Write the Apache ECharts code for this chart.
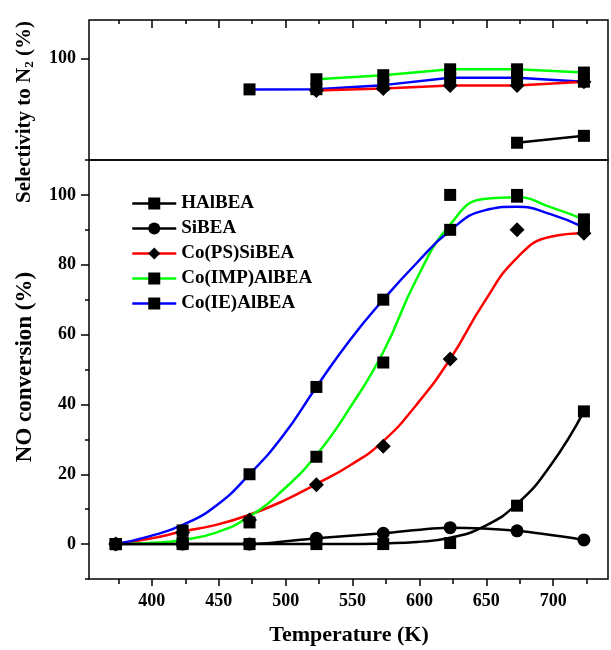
<!DOCTYPE html>
<html lang="en">
<head>
    <meta charset="utf-8">
    <title>NO conversion and selectivity to N2</title>
    <script src="https://cdn.jsdelivr.net/npm/echarts@6/dist/echarts.min.js"></script>
    <style>
        html, body { margin: 0; padding: 0; background: #fff; }
        #chart { width: 611px; height: 650px; }
    </style>
</head>
<body>
    <div id="chart"></div>
    <script type="text/javascript">
        // temperatures (K)
        var temps = [373, 423, 473, 523, 573, 623, 673, 723];
        // measured NO conversion (%)
        var convHAlBEA = [0, 0, 0, 0, 0, 0.3, 11, 38];
        var convSiBEA = [0, 0, 0, 1.7, 3.1, 4.7, 3.8, 1.2];
        var convCoPS = [0, 3.3, 6.9, 17, 28, 53, 90, 89];
        var convCoIMP = [0, 0.5, 6.2, 25, 52, 100, 100, 93];
        var convCoIE = [0, 3.9, 20, 45, 70, 90, 99.5, 91];
        // fitted curves
        var fitT = [373, 398, 423, 448, 473, 498, 523, 548, 573, 598, 623, 648, 673, 698, 723];
        var fitHAlBEA = [0, 0, 0, 0, 0, 0, 0, 0, 0.2, 0.6, 1.8, 5, 11.5, 22.5, 38];
        var fitCoPS = [0, 1.5, 3.6, 5.5, 8.4, 12.3, 17.2, 22.5, 29.5, 40, 53, 69, 82, 88, 89];
        var fitCoIMP = [0, 0.3, 1.2, 3.3, 7.9, 15.5, 25.5, 39, 55, 76, 91.5, 98.8, 99.3, 96.5, 93];
        var fitCoIE = [0, 2.2, 5.5, 11, 20, 31, 45, 58.4, 70, 80.5, 89.8, 95.5, 96.6, 94.5, 90.7];
        // selectivity to N2 (%)
        var selHAlBEA = [null, null, null, null, null, null, 58.5, 61.9];
        var selCoPS = [null, null, null, 84.3, 85.2, 86.7, 86.7, 88.6];
        var selCoIMP = [null, null, null, 89.8, 91.8, 94.7, 94.7, 93.1];
        var selCoIE = [null, null, 84.8, 84.9, 86.9, 90.5, 90.5, 88.6];
        // ticks
        var xMajor = [400, 450, 500, 550, 600, 650, 700];
        var xMinor = [375, 425, 475, 525, 575, 625, 675, 725];
        var yMajor = [0, 20, 40, 60, 80, 100];
        var yMinor = [-10, 10, 30, 50, 70, 90, 110];
        var selTicks = [100];

        var FONT = "'Liberation Serif', 'Times New Roman', serif";
        var names = ["HAlBEA", "SiBEA", "Co(PS)SiBEA", "Co(IMP)AlBEA", "Co(IE)AlBEA"];
        var colors = ["#000000", "#000000", "#ff0000", "#00ff00", "#0000ff"];

        function pairs(xs, ys) {
            return xs.map(function (x, i) { return [x, ys[i]]; });
        }

        function xAx(grid, pos, ticks, len, inside, labels) {
            return {
                type: "value", gridIndex: grid, position: pos, min: 353, max: 741,
                axisLine: { show: false, onZero: false },
                splitLine: { show: false },
                axisTick: { show: true, inside: inside, length: len, customValues: ticks, lineStyle: { color: "#000", width: 1.5 } },
                axisLabel: labels ? {
                    show: true, customValues: ticks, margin: 13, color: "#000",
                    fontFamily: FONT, fontWeight: "bold", fontSize: 18
                } : { show: false }
            };
        }

        function yAx(grid, min, max, ticks, len, labels) {
            return {
                type: "value", gridIndex: grid, position: "left", min: min, max: max,
                axisLine: { show: false, onZero: false },
                splitLine: { show: false },
                axisTick: { show: true, inside: false, length: len, customValues: ticks, lineStyle: { color: "#000", width: 1.5 } },
                axisLabel: labels ? {
                    show: true, customValues: ticks, margin: 13, color: "#000",
                    fontFamily: FONT, fontWeight: "bold", fontSize: 18
                } : { show: false }
            };
        }

        var markerSym = ["rect", "circle", "diamond", "rect", "rect"];
        var markerSize = [12, 13, 15, 12, 12];
        var convData = [convHAlBEA, convSiBEA, convCoPS, convCoIMP, convCoIE];

        var series = [];
        // measured points (legend series, first)
        names.forEach(function (n, i) {
            var isSi = i === 1;
            series.push({
                name: n, type: "line", xAxisIndex: 2, yAxisIndex: 1,
                data: pairs(temps, convData[i]),
                symbol: markerSym[i], symbolSize: markerSize[i],
                smooth: isSi ? 0.3 : false,
                itemStyle: { color: "#000" },
                lineStyle: isSi ? { color: "#000", width: 2.5 } : { width: 0, opacity: 0 },
                z: 5
            });
        });
        // fitted curves
        [[fitHAlBEA, 0], [fitCoPS, 2], [fitCoIMP, 3], [fitCoIE, 4]].forEach(function (f) {
            series.push({
                name: names[f[1]] + " fit", type: "line", xAxisIndex: 2, yAxisIndex: 1,
                data: pairs(fitT, f[0]), symbol: "none", smooth: 0.5,
                lineStyle: { color: colors[f[1]], width: 2.5 }, z: 3
            });
        });
        // selectivity panel
        [[selCoIE, 4, "rect"], [selCoPS, 2, "diamond"], [selCoIMP, 3, "rect"], [selHAlBEA, 0, "rect"]].forEach(function (s) {
            series.push({
                name: names[s[1]] + " sel", type: "line", xAxisIndex: 0, yAxisIndex: 0,
                data: pairs(temps, s[0]), symbol: s[2], symbolSize: s[2] === "diamond" ? 15 : 12,
                itemStyle: { color: "#000" },
                lineStyle: { color: colors[s[1]], width: 2.5 }, z: 3
            });
        });

        var option = {
            animation: false,
            backgroundColor: "#fff",
            grid: [
                { left: 89, right: 3, top: 20, height: 140, show: true, borderColor: "#000", borderWidth: 1.5, backgroundColor: "transparent" },
                { left: 89, right: 3, top: 160, bottom: 71, show: true, borderColor: "#000", borderWidth: 1.5, backgroundColor: "transparent" }
            ],
            xAxis: [
                xAx(0, "top", xMajor, 8, true, false),
                xAx(0, "top", xMinor, 4, true, false),
                xAx(1, "bottom", xMajor, 7, false, true),
                xAx(1, "bottom", xMinor, 5, false, false)
            ],
            yAxis: [
                yAx(0, 50, 119, selTicks, 8, true),
                yAx(1, -10, 110, yMajor, 8, true),
                yAx(1, -10, 110, yMinor, 4, false)
            ],
            legend: {
                orient: "vertical", left: 126, top: 189,
                itemWidth: 44, itemHeight: 15, itemGap: 6,
                textStyle: { fontFamily: FONT, fontWeight: "bold", fontSize: 19, color: "#000", lineHeight: 19 },
                data: names.map(function (n, i) {
                    return { name: n, lineStyle: { color: colors[i], width: 2.5, opacity: 1, type: "solid" } };
                })
            },
            graphic: [
                {
                    type: "text", x: 349, y: 635,
                    style: { text: "Temperature (K)", fontFamily: FONT, fontWeight: "bold", fontSize: 22, fill: "#000", align: "center", verticalAlign: "middle" }
                },
                {
                    type: "text", x: 25, y: 367, rotation: Math.PI / 2,
                    style: { text: "NO conversion (%)", fontFamily: FONT, fontWeight: "bold", fontSize: 23, fill: "#000", align: "center", verticalAlign: "middle" }
                },
                {
                    type: "text", x: 25, y: 112, rotation: Math.PI / 2,
                    style: {
                        text: "{a|Selectivity to N}{s|2}{a| (%)}", align: "center", verticalAlign: "middle",
                        rich: {
                            a: { fontFamily: FONT, fontWeight: "bold", fontSize: 21, fill: "#000" },
                            s: { fontFamily: FONT, fontWeight: "bold", fontSize: 13, fill: "#000", padding: [9, 0, 0, 0] }
                        }
                    }
                }
            ],
            series: series
        };

        var mychart = echarts.init(document.getElementById("chart"));
        mychart.setOption(option);
    </script>
</body>
</html>
